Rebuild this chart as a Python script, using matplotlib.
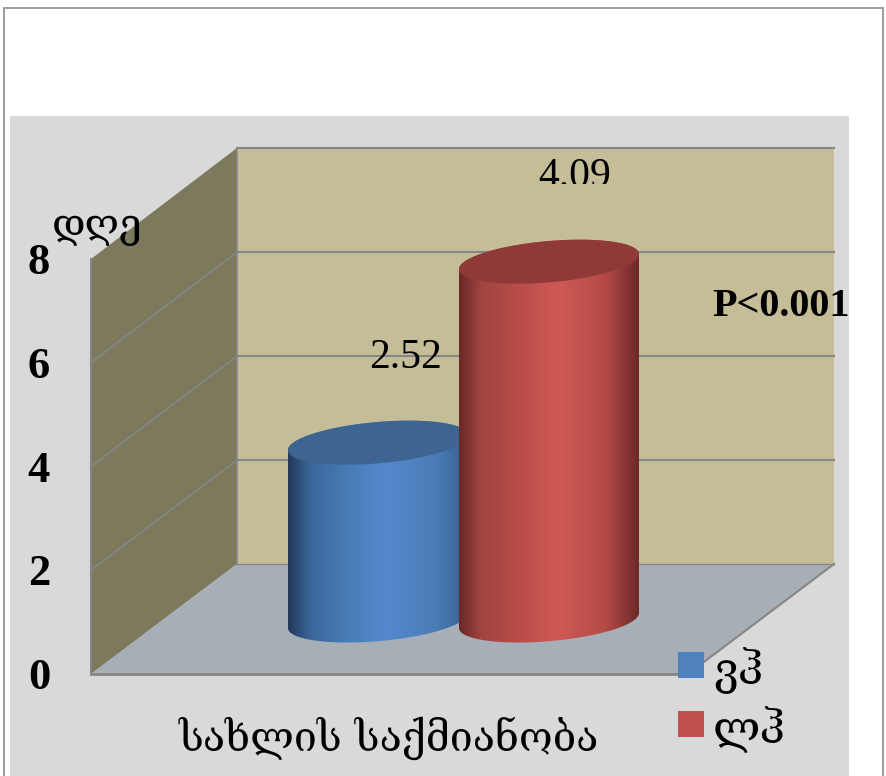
import numpy as np
import matplotlib
matplotlib.use('Agg')
import matplotlib.pyplot as plt
from matplotlib.colors import LinearSegmentedColormap
from matplotlib.patches import Polygon, Rectangle

categories = ['ვჰ', 'ლჰ']
bar_heights = [3.42, 6.90]
bar_labels = ['2.52', '4.09']
y_ticks = [0, 2, 4, 6, 8]
y_title = 'დღე'
x_title = 'სახლის საქმიანობა'
p_text = 'P<0.001'

bar_colors = ['#4f81bd', '#c0504d']
top_colors = ['#3e6591', '#8f3a39']
bar_stops = [['#22395a', '#3a6599', '#4a7eb9', '#5589cd', '#4a7cb6', '#37628f'],
             ['#6a2826', '#a04441', '#bb4d49', '#cf5a55', '#b44a47', '#6c2927']]
stop_pos = [0, 0.12, 0.35, 0.55, 0.82, 1]

SERIF = ['Liberation Serif', 'DejaVu Serif']
GEO = ['DejaVu Serif', 'DejaVu Sans']
GRID = '#868686'

# box corners in pixels
back_l, back_r, back_top, back_bot = 237, 834, 148, 564
front_l, front_r, front_top, front_bot = 91, 688, 259, 674


def back_y(v):
    return back_bot - v * (back_bot - back_top) / 8


def front_y(v):
    return front_bot - v * (front_bot - front_top) / 8


fig = plt.figure(figsize=(8.87, 7.76), dpi=100)
ax = fig.add_axes([0, 0, 1, 1])
ax.axis('off')

ax.add_patch(Rectangle((4, 8), 879, 780, fc='white', ec='#8c8c8c', lw=1.2))
ax.add_patch(Rectangle((10, 116), 839, 670, fc='#d9d9d9', ec='none'))

# walls and floor
ax.add_patch(Rectangle((back_l, back_top), back_r - back_l, back_bot - back_top, fc='#c4bd97', ec='none'))
ax.add_patch(Polygon([(back_l, back_top), (back_l, back_bot), (front_l, front_bot), (front_l, front_top)],
                     fc='#7d795d', ec='none'))
ax.add_patch(Polygon([(front_l, front_bot), (back_l, back_bot), (back_r, back_bot), (front_r, front_bot)],
                     fc='#a6aeb6', ec='none'))

for v in y_ticks:
    # the slanted part only shows on the inner gridlines
    if 0 < v < 8:
        ax.plot([front_l, back_l], [front_y(v), back_y(v)], color=GRID, lw=1.2)
    ax.plot([back_l, back_r], [back_y(v), back_y(v)], color=GRID, lw=1.5 if v > 0 else 1)
    ax.text(39, front_y(v) + 4, str(v), fontsize=32, fontweight='bold', family=SERIF, ha='center', va='center')
ax.plot([back_l, back_l], [back_top, back_bot], color=GRID, lw=1.2)
ax.plot([front_l, front_l], [front_top, front_bot], color=GRID, lw=1.5)
ax.plot([front_r, back_r], [front_bot, back_bot], color=GRID, lw=1.5)
ax.plot([front_l, front_r], [front_bot, front_bot], color=GRID, lw=2)

# cylinders
px_per_unit = (back_bot - back_top) / 8
bar_w = 180
base_y = 620.5
tilt = 7.5
minor = 20.7
lefts = [288, 459]
t = np.linspace(0, 2 * np.pi, 181)


def rim(cx, cy, ts):
    a = bar_w / 2
    return cx + a * np.cos(ts), cy + minor * np.sin(ts) - tilt * np.cos(ts)


for i, h in enumerate(bar_heights):
    cx = lefts[i] + bar_w / 2
    top_y = base_y - h * px_per_unit
    xb, yb = rim(cx, base_y, np.linspace(0, np.pi, 91))
    xt, yt = rim(cx, top_y, np.linspace(np.pi, 2 * np.pi, 91))
    verts = np.r_[np.c_[xb, yb], np.c_[xt, yt], [[xb[0], yb[0]]]]
    clip = Polygon(verts, closed=True, transform=ax.transData, fc='none', ec='none')
    ax.add_patch(clip)
    cmap = LinearSegmentedColormap.from_list('cyl', list(zip(stop_pos, bar_stops[i])))
    grad = np.linspace(0, 1, 256).reshape(1, -1)
    im = ax.imshow(grad, cmap=cmap, aspect='auto', zorder=3 + i,
                   extent=(lefts[i], lefts[i] + bar_w, 700, 200))
    im.set_clip_path(clip)
    xc, yc = rim(cx, top_y, t)
    ax.add_patch(Polygon(np.c_[xc, yc], fc=top_colors[i], ec='none', zorder=3 + i))

# value labels, the upper one is cut off at its bottom in the original
label_pos = [(406, 358), (575, 177)]
for i, txt in enumerate(bar_labels):
    tx = ax.text(label_pos[i][0], label_pos[i][1], txt, fontsize=30, family=SERIF, ha='center', va='center', zorder=8)
    if i == 1:
        tx.set_clip_on(True)
        tx.set_clip_path(Rectangle((500, 140), 150, 44, transform=ax.transData))

ax.text(781.5, 306, p_text, fontsize=29, fontweight='bold', family=SERIF, ha='center', va='center', zorder=8)
ax.text(97, 228, y_title, fontsize=29, family=GEO, ha='center', va='center', zorder=8)
ax.text(389, 738, x_title, fontsize=29.5, family=GEO, ha='center', va='center', zorder=8)

# legend
leg_y = [652, 711]
for i, name in enumerate(categories):
    ax.add_patch(Rectangle((678, leg_y[i]), 26, 26, fc=bar_colors[i], ec='none', zorder=8))
    ax.text(713, leg_y[i] + 19, name, fontsize=32, family=GEO, ha='left', va='center', zorder=8)

ax.set_xlim(0, 887)
ax.set_ylim(776, 0)
fig.savefig('out.png', dpi=100)
